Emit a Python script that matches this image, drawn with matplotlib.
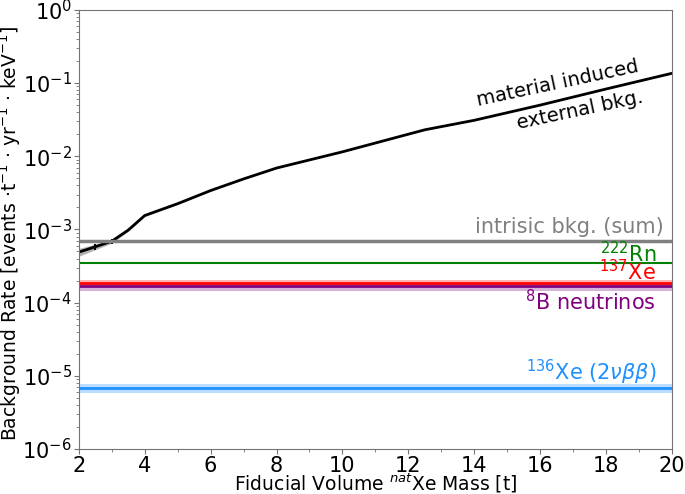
import matplotlib
matplotlib.use("Agg")
import matplotlib.pyplot as plt
import numpy as np

# fiducial mass [t] and material-induced external background rate
mass = [2.0, 2.5, 3.0, 3.5, 4.0, 5.0, 6.0, 7.0, 8.0, 10.0, 12.5, 14.0, 16.0, 18.0, 20.0]
external = [4.9e-4, 5.8e-4, 6.9e-4, 9.8e-4, 1.55e-3, 2.25e-3, 3.4e-3, 4.9e-3, 6.9e-3,
            1.15e-2, 2.3e-2, 3.1e-2, 5.0e-2, 8.3e-2, 1.36e-1]
external_lo = [4.3e-4, 5.3e-4, 6.5e-4, 9.4e-4, 1.5e-3, 2.2e-3, 3.35e-3, 4.85e-3, 6.85e-3,
               1.14e-2, 2.28e-2, 3.08e-2, 4.97e-2, 8.25e-2, 1.35e-1]
external_hi = [5.5e-4, 6.3e-4, 7.3e-4, 1.02e-3, 1.6e-3, 2.3e-3, 3.45e-3, 4.95e-3, 6.95e-3,
               1.16e-2, 2.32e-2, 3.12e-2, 5.03e-2, 8.35e-2, 1.37e-1]
err_mass = [2.5, 3.0]
err_rate = [5.8e-4, 6.9e-4]
err_size = [0.6e-4, 0.6e-4]

# intrinsic background levels (rate, band low, band high)
intrinsic_sum = 7.0e-4
rn222 = 3.45e-4
xe137 = [1.87e-4, 1.77e-4, 2.05e-4]
b8 = [1.68e-4, 1.45e-4, 1.85e-4]
xe136 = [6.8e-6, 5.9e-6, 7.7e-6]

plt.rcParams["font.family"] = ["DejaVu Sans"]
plt.rcParams["mathtext.fontset"] = "dejavusans"

fig = plt.figure(figsize=(6.85, 4.94), dpi=100)
ax = fig.add_axes([0.115, 0.091, 0.866, 0.889])

ax.fill_between(mass, external_lo, external_hi, color="0.5", alpha=0.6, lw=0)
ax.plot(mass, external, color="black", lw=2)
ax.errorbar(err_mass, err_rate, yerr=err_size, fmt="none", ecolor="black", elinewidth=1.5)

ax.axhline(intrinsic_sum, color="0.5", lw=2.5)
ax.axhline(rn222, color="green", lw=1.5)
ax.axhspan(xe137[1], xe137[2], color="red", alpha=0.3, lw=0)
ax.axhline(xe137[0], color="red", lw=2)
ax.axhspan(b8[1], b8[2], color="purple", alpha=0.3, lw=0)
ax.axhline(b8[0], color="purple", lw=2)
ax.axhspan(xe136[1], xe136[2], color="dodgerblue", alpha=0.3, lw=0)
ax.axhline(xe136[0], color="dodgerblue", lw=2)

ax.set_yscale("log")
ax.set_xlim(2, 20)
ax.set_ylim(1e-6, 1)
ax.set_xticks(np.arange(2, 21, 2))
ax.set_xticks(np.arange(3, 20, 2), minor=True)
ax.tick_params(labelsize=15, colors="black", pad=1.5)
ax.tick_params(which="both", color="0.45")
for sp in ax.spines.values():
    sp.set_color("0.45")

ax.set_xlabel(r"Fiducial Volume $^{nat}$Xe Mass [t]", fontsize=13.5)
ax.set_ylabel("Background Rate [events ·t$^{-1}$ · yr$^{-1}$ · keV$^{-1}$]", fontsize=13.5)
ax.xaxis.set_label_coords(0.5, -0.052)
ax.yaxis.set_label_coords(-0.094, 0.49)

fs = 15
ax.text(19.76, 8.95e-4, "intrisic bkg. (sum)", color="0.5", fontsize=fs, ha="right", va="baseline")
ax.text(19.52, 3.6e-4, r"$^{222}$Rn", color="green", fontsize=fs, ha="right", va="baseline")
ax.text(19.52, 2.04e-4, r"$^{137}$Xe", color="red", fontsize=fs, ha="right", va="baseline")
ax.text(19.52, 7.9e-5, r"$^{8}$B neutrinos", color="purple", fontsize=fs, ha="right", va="baseline")
ax.text(19.52, 8.8e-6, r"$^{136}$Xe ($2\nu\beta\beta$)", color="dodgerblue", fontsize=fs, ha="right", va="baseline")

ax.text(16.54, 0.1, "material induced", fontsize=14, rotation=12, ha="center", va="center")
ax.text(17.21, 0.043, "external bkg.", fontsize=14, rotation=12, ha="center", va="center")

fig.savefig("out.png", dpi=100)
